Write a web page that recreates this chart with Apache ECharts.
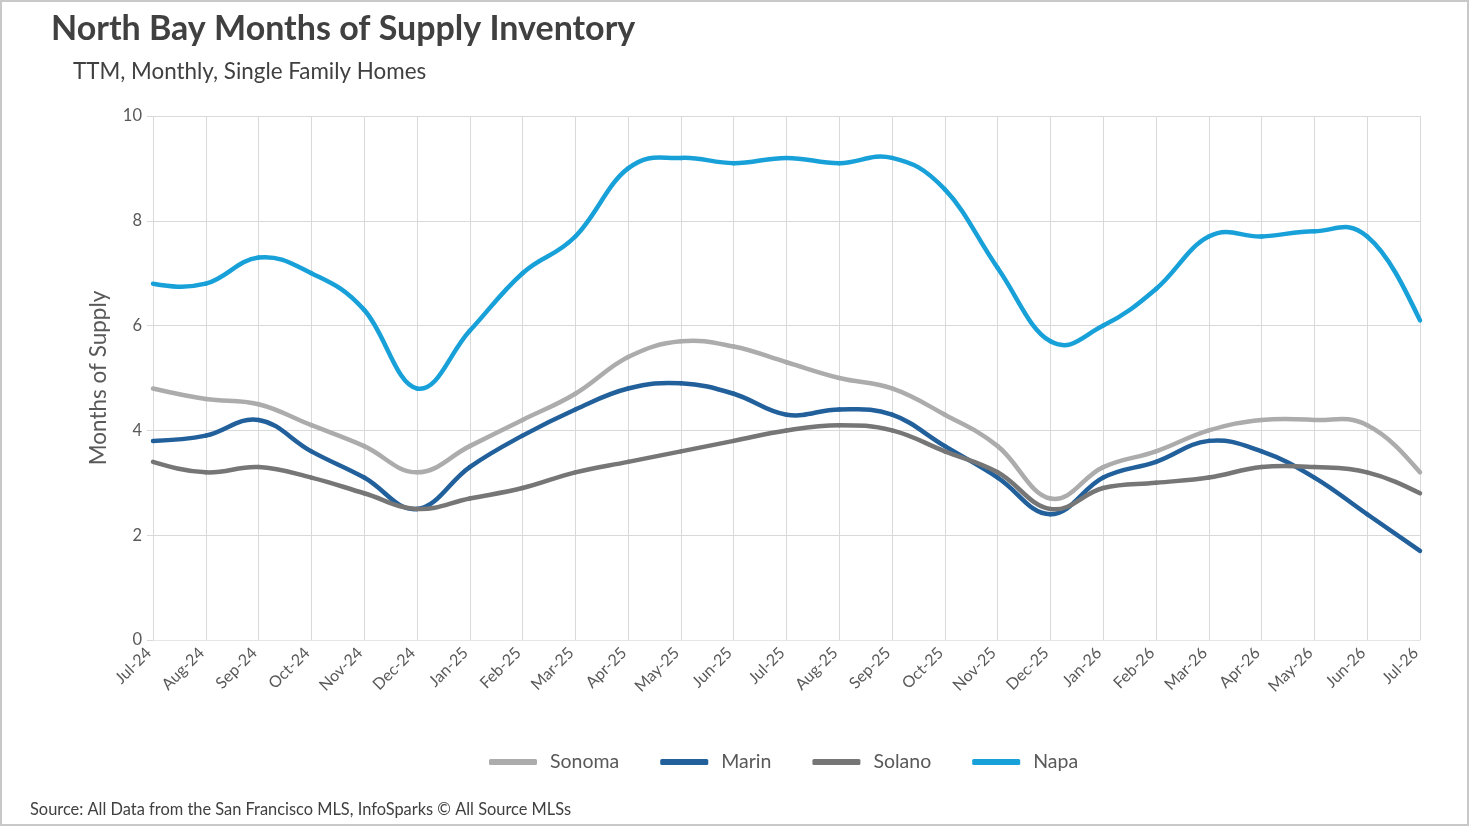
<!DOCTYPE html>
<html lang="en">
  <head>
    <meta charset="UTF-8" />
    <title>North Bay Months of Supply Inventory</title>
    <script src="https://cdn.jsdelivr.net/npm/echarts@6/dist/echarts.min.js"></script>
    <style>
      html, body { margin: 0; padding: 0; background: #fff; }
      #main { width: 1465px; height: 822px; border: 2px solid #c8c8c8; }
    </style>
  </head>
  <body>
    <div id="main"></div>
    <script>
      // months
      const months = ["Jul-24","Aug-24","Sep-24","Oct-24","Nov-24","Dec-24","Jan-25","Feb-25","Mar-25","Apr-25","May-25","Jun-25","Jul-25","Aug-25","Sep-25","Oct-25","Nov-25","Dec-25","Jan-26","Feb-26","Mar-26","Apr-26","May-26","Jun-26","Jul-26"];
      // months of supply per county
      const sonoma = [4.8,4.6,4.5,4.1,3.7,3.2,3.7,4.2,4.7,5.4,5.7,5.6,5.3,5.0,4.8,4.3,3.7,2.7,3.3,3.6,4.0,4.2,4.2,4.1,3.2];
      const marin  = [3.8,3.9,4.2,3.6,3.1,2.5,3.3,3.9,4.4,4.8,4.9,4.7,4.3,4.4,4.3,3.7,3.1,2.4,3.1,3.4,3.8,3.6,3.1,2.4,1.7];
      const solano = [3.4,3.2,3.3,3.1,2.8,2.5,2.7,2.9,3.2,3.4,3.6,3.8,4.0,4.1,4.0,3.6,3.2,2.5,2.9,3.0,3.1,3.3,3.3,3.2,2.8];
      const napa   = [6.8,6.8,7.3,7.0,6.3,4.8,5.9,7.0,7.7,9.0,9.2,9.1,9.2,9.1,9.2,8.6,7.1,5.7,6.0,6.7,7.7,7.7,7.8,7.7,6.1];

      const font = "Lato, 'Noto Sans', sans-serif";
      const colors = { Sonoma: "#acacac", Marin: "#22609c", Solano: "#767676", Napa: "#18a1d8" };
      const k = 1 / 5; // catmull-rom style tension, like spreadsheet smoothing

      // smoothed line drawn segment by segment through the axis scales
      function curve(name, vals) {
        const n = vals.length;
        return {
          name: name,
          type: "custom",
          coordinateSystem: "cartesian2d",
          data: vals.map((v, i) => [i, v]),
          encode: { x: 0, y: 1 },
          itemStyle: { color: colors[name] },
          renderItem: function (params, api) {
            const i = params.dataIndex;
            if (i >= n - 1) return null;
            const pt = (j) => api.coord([j, vals[j]]);
            const p1 = pt(i), p2 = pt(i + 1);
            const p0 = i > 0 ? pt(i - 1) : null;
            const p3 = i + 2 < n ? pt(i + 2) : null;
            let c1 = p0 ? [p1[0] + (p2[0] - p0[0]) * k, p1[1] + (p2[1] - p0[1]) * k] : null;
            let c2 = p3 ? [p2[0] - (p3[0] - p1[0]) * k, p2[1] - (p3[1] - p1[1]) * k] : null;
            if (!c1) c1 = [p1[0] + (c2[0] - p1[0]) / 2, p1[1] + (c2[1] - p1[1]) / 2];
            if (!c2) c2 = [p2[0] + (c1[0] - p2[0]) / 2, p2[1] + (c1[1] - p2[1]) / 2];
            return {
              type: "bezierCurve",
              shape: {
                x1: p1[0], y1: p1[1], x2: p2[0], y2: p2[1],
                cpx1: c1[0], cpy1: c1[1], cpx2: c2[0], cpy2: c2[1]
              },
              style: { stroke: colors[name], fill: null, lineWidth: 4.5, lineCap: "round" }
            };
          }
        };
      }

      const chart = echarts.init(document.getElementById("main"));
      chart.setOption({
        animation: false,
        textStyle: { fontFamily: font },
        title: [
          {
            text: "North Bay Months of Supply Inventory",
            left: 44, top: 5,
            textStyle: { fontFamily: font, fontSize: 34, fontWeight: "bold", color: "#404040" }
          },
          {
            text: "TTM, Monthly, Single Family Homes",
            left: 66, top: 54,
            textStyle: { fontFamily: font, fontSize: 22.4, fontWeight: "normal", color: "#404040" }
          },
          {
            text: "Source: All Data from the San Francisco MLS, InfoSparks \u00a9 All Source MLSs",
            left: 23, top: 795,
            textStyle: { fontFamily: font, fontSize: 16.4, fontWeight: "normal", color: "#404040" }
          }
        ],
        legend: {
          data: ["Sonoma", "Marin", "Solano", "Napa"],
          left: 482,
          top: 745,
          itemWidth: 48,
          itemHeight: 6,
          itemGap: 41,
          icon: "roundRect",
          textStyle: { fontFamily: font, fontSize: 19.5, color: "#595959", padding: [0, 0, 0, 8] }
        },
        grid: { left: 151, right: 47, top: 114, bottom: 184 },
        xAxis: {
          type: "category",
          data: months,
          boundaryGap: false,
          axisLine: { lineStyle: { color: "#e6e6e6" } },
          axisTick: { show: false },
          splitLine: { show: true, lineStyle: { color: "#d9d9d9", width: 1 } },
          axisLabel: {
            interval: 0, rotate: 45, fontSize: 16, color: "#595959", fontFamily: font,
            margin: 6, padding: [0, 6, 0, 0]
          }
        },
        yAxis: {
          type: "value",
          min: 0, max: 10, interval: 2,
          name: "Months of Supply",
          nameLocation: "middle",
          nameGap: 43,
          nameTextStyle: { fontFamily: font, fontSize: 22.5, color: "#595959" },
          axisLine: { show: false },
          axisTick: { show: true, length: 6, lineStyle: { color: "#d9d9d9" } },
          splitLine: { lineStyle: { color: "#d9d9d9", width: 1 } },
          axisLabel: { fontSize: 16.5, color: "#595959", fontFamily: font, margin: 11 }
        },
        series: [
          curve("Sonoma", sonoma),
          curve("Marin", marin),
          curve("Solano", solano),
          curve("Napa", napa)
        ]
      });
    </script>
  </body>
</html>
